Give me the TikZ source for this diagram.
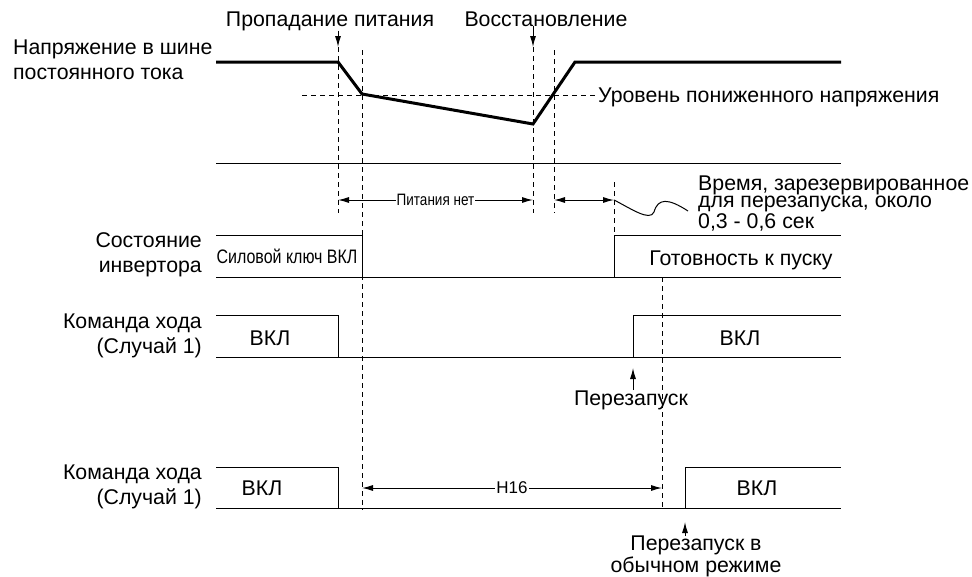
\documentclass[tikz,border=0pt]{standalone}
\usepackage{fontspec}
\setmainfont{Liberation Sans}
\newfontfamily\narrowfont[FakeStretch=0.82]{Liberation Sans}
\usetikzlibrary{arrows.meta, positioning}
\tikzset{
  txt/.style={inner sep=0pt, font=\fontsize{21.3}{25}\selectfont},
  tight/.style={inner sep=0pt, align=left, font=\fontsize{21.3}{17.5}\selectfont},
  narrow/.style={inner sep=0pt, font=\narrowfont\fontsize{19.5}{22}\selectfont},
  small/.style={inner sep=1pt, fill=white, font=\narrowfont\fontsize{16.5}{18}\selectfont},
  bus/.style={line width=3pt},
  signal/.style={line width=1pt},
  guide/.style={line width=1pt, dash pattern=on 5pt off 4pt},
  arrow/.style={-{Latex[length=11pt,width=6pt]}, line width=1pt},
  dimarrow/.style={{Latex[length=11pt,width=6pt]}-{Latex[length=11pt,width=6pt]}, line width=1pt}
}
\begin{document}
\begin{tikzpicture}[x=1pt, y=-1pt]
  \useasboundingbox (0,0) rectangle (972,576);

  % event marks on the time axis
  \coordinate (loss) at (338,47);
  \coordinate (lossend) at (362,50);
  \coordinate (back) at (533,47);
  \coordinate (backend) at (554,50);
  \coordinate (ready) at (614,182);
  \coordinate (h16end) at (662,277);

  % dashed guides
  \draw[guide] (loss) -- (338,213);
  \draw[guide] (lossend) -- (362,510);
  \draw[guide] (back) -- (533,213);
  \draw[guide] (backend) -- (554,213);
  \draw[guide] (ready) -- (614,235);
  \draw[guide] (h16end) -- (662,510);
  \draw[guide] (302,95) -- (595,95);

  % DC bus voltage
  \draw[bus] (216,62) -- (338,62) -- (362,94) -- (533,124) -- (575,62) -- (841,62);
  \draw[signal] (216,163) -- (841,163);

  % inverter state
  \draw[signal] (216,235) -- (362,235) -- (362,277);
  \draw[signal] (216,277) -- (841,277);
  \draw[signal] (614,277) -- (614,235) -- (841,235);

  % run command, case 1
  \draw[signal] (216,315) -- (338,315) -- (338,357);
  \draw[signal] (216,357) -- (841,357);
  \draw[signal] (633,357) -- (633,315) -- (841,315);

  % run command, second case
  \draw[signal] (216,467) -- (338,467) -- (338,508);
  \draw[signal] (216,508) -- (841,508);
  \draw[signal] (685,508) -- (685,467) -- (841,467);

  % texts
  \node[txt, anchor=base] (losstxt) at (330,26) {Пропадание питания};
  \node[txt, anchor=base] (backtxt) at (546,26) {Восстановление};
  \node[txt, anchor=base west, align=left] (busname) at (13,79) {Напряжение в шине\\постоянного тока};
  \node[txt, anchor=base west] (uvtxt) at (598,102) {Уровень пониженного напряжения};
  \node[tight, anchor=base west] (reserve) at (698,228) {Время, зарезервированное\\для перезапуска, около\\0,3 - 0,6 сек};
  \node[txt, anchor=base east, align=right] (invname) at (202,272) {Состояние\\инвертора};
  \node[narrow, anchor=base] (igbt) at (287,263) {Силовой ключ ВКЛ};
  \node[txt, anchor=base] (readytxt) at (741,265) {Готовность к пуску};
  \node[txt, anchor=base east, align=right] (runA) at (202,353) {Команда хода\\(Случай 1)};
  \node[txt, anchor=base] (onA1) at (270,345) {ВКЛ};
  \node[txt, anchor=base] (onA2) at (740,345) {ВКЛ};
  \node[txt, anchor=base] (restart) at (631,405) {Перезапуск};
  \node[txt, anchor=base east, align=right] (runB) at (202,504) {Команда хода\\(Случай 1)};
  \node[txt, anchor=base] (onB1) at (262,495) {ВКЛ};
  \node[txt, anchor=base] (onB2) at (757,495) {ВКЛ};
  \node[tight, anchor=base, align=center] (normal) at (696,572) {Перезапуск в\\обычном режиме};

  % arrows
  \draw[arrow] (losstxt.south -| loss) -- (loss);
  \draw[arrow] (backtxt.south -| back) -- (back);
  \draw[dimarrow] (338,200) -- node[small] {Питания нет} (533,200);
  \draw[dimarrow] (554,200) -- (614,200);
  \draw[signal] (614,200) .. controls (630,208) and (650,222) .. (654,212)
    .. controls (658,198) and (668,198) .. (688,211);
  \draw[dimarrow] (362,488) -- node[fill=white, inner sep=1pt, font=\fontsize{17}{20}\selectfont] {H16} (662,488);
  \draw[arrow] (restart.north -| 633,0) -- (633,368);
  \draw[arrow] (normal.north -| 685,0) -- (685,522);
\end{tikzpicture}
\end{document}
